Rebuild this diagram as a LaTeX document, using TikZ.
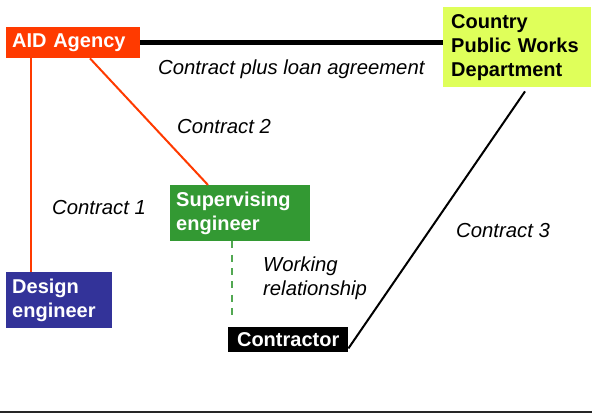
\documentclass[tikz,border=0pt]{standalone}
\usepackage{fontspec}
\setmainfont{Liberation Sans}
\definecolor{aidred}{HTML}{FF3A00}
\definecolor{pwdyellow}{HTML}{DFFF5A}
\definecolor{supgreen}{HTML}{339933}
\definecolor{desblue}{HTML}{333399}
\begin{document}
\begin{tikzpicture}[x=1pt,y=-1pt,
  box/.style={draw=none, inner xsep=6pt, inner ysep=0pt, anchor=north west, align=left,
    font=\bfseries\fontsize{20}{24}\selectfont, text=white},
  lab/.style={font=\itshape\fontsize{20.3}{24}\selectfont, inner sep=0pt, anchor=base west, align=left},
  redline/.style={draw=aidred, line width=2pt},
  blackline/.style={draw=black, line width=2pt},
  greendash/.style={draw=supgreen!85!white, line width=2pt, dash pattern=on 7pt off 6.3pt}]
\useasboundingbox (0,0) rectangle (592,413);

\node[box, fill=aidred, minimum width=134pt, minimum height=31pt, text width=122pt] (aid) at (6,27) {AID Agency};
\node[box, fill=pwdyellow, text=black, inner xsep=8pt, minimum width=148pt, minimum height=80pt, text width=132pt] (pwd) at (443,7) {Country\\Public Works\\Department};
\node[box, fill=supgreen, minimum width=140pt, minimum height=56pt, text width=128pt] (sup) at (170,185) {Supervising\\engineer};
\node[box, fill=desblue, minimum width=106pt, minimum height=56pt, text width=94pt] (des) at (6,272) {Design\\engineer};
\node[box, fill=black, align=center, minimum width=120pt, minimum height=25pt, text width=108pt] (con) at (228,327) {Contractor};

\draw[line width=5pt] (aid.east) -- (aid.east -| pwd.west);
\draw[redline] ([xshift=25pt]aid.south west) -- ([xshift=25pt]des.north west);
\draw[redline] ([xshift=84pt]aid.south west) -- ([xshift=38pt]sup.north west);
\draw[greendash] ([xshift=62pt]sup.south west) -- ([xshift=4pt,yshift=6pt]con.north west);
\draw[blackline] ([xshift=82pt,yshift=-4pt]pwd.south west) -- ([yshift=4pt]con.south east);

\node[lab] (l0) at (158,74) {Contract plus loan agreement};
\node[lab] (l2) at (177,133) {Contract 2};
\node[lab] (l1) at (52,214) {Contract 1};
\node[lab] (l3) at (456,237) {Contract 3};
\node[lab] (lw) at (263,295) {Working\\relationship};

\draw[line width=1.3pt, black!85] (0,412) -- (592,412);
\end{tikzpicture}
\end{document}
